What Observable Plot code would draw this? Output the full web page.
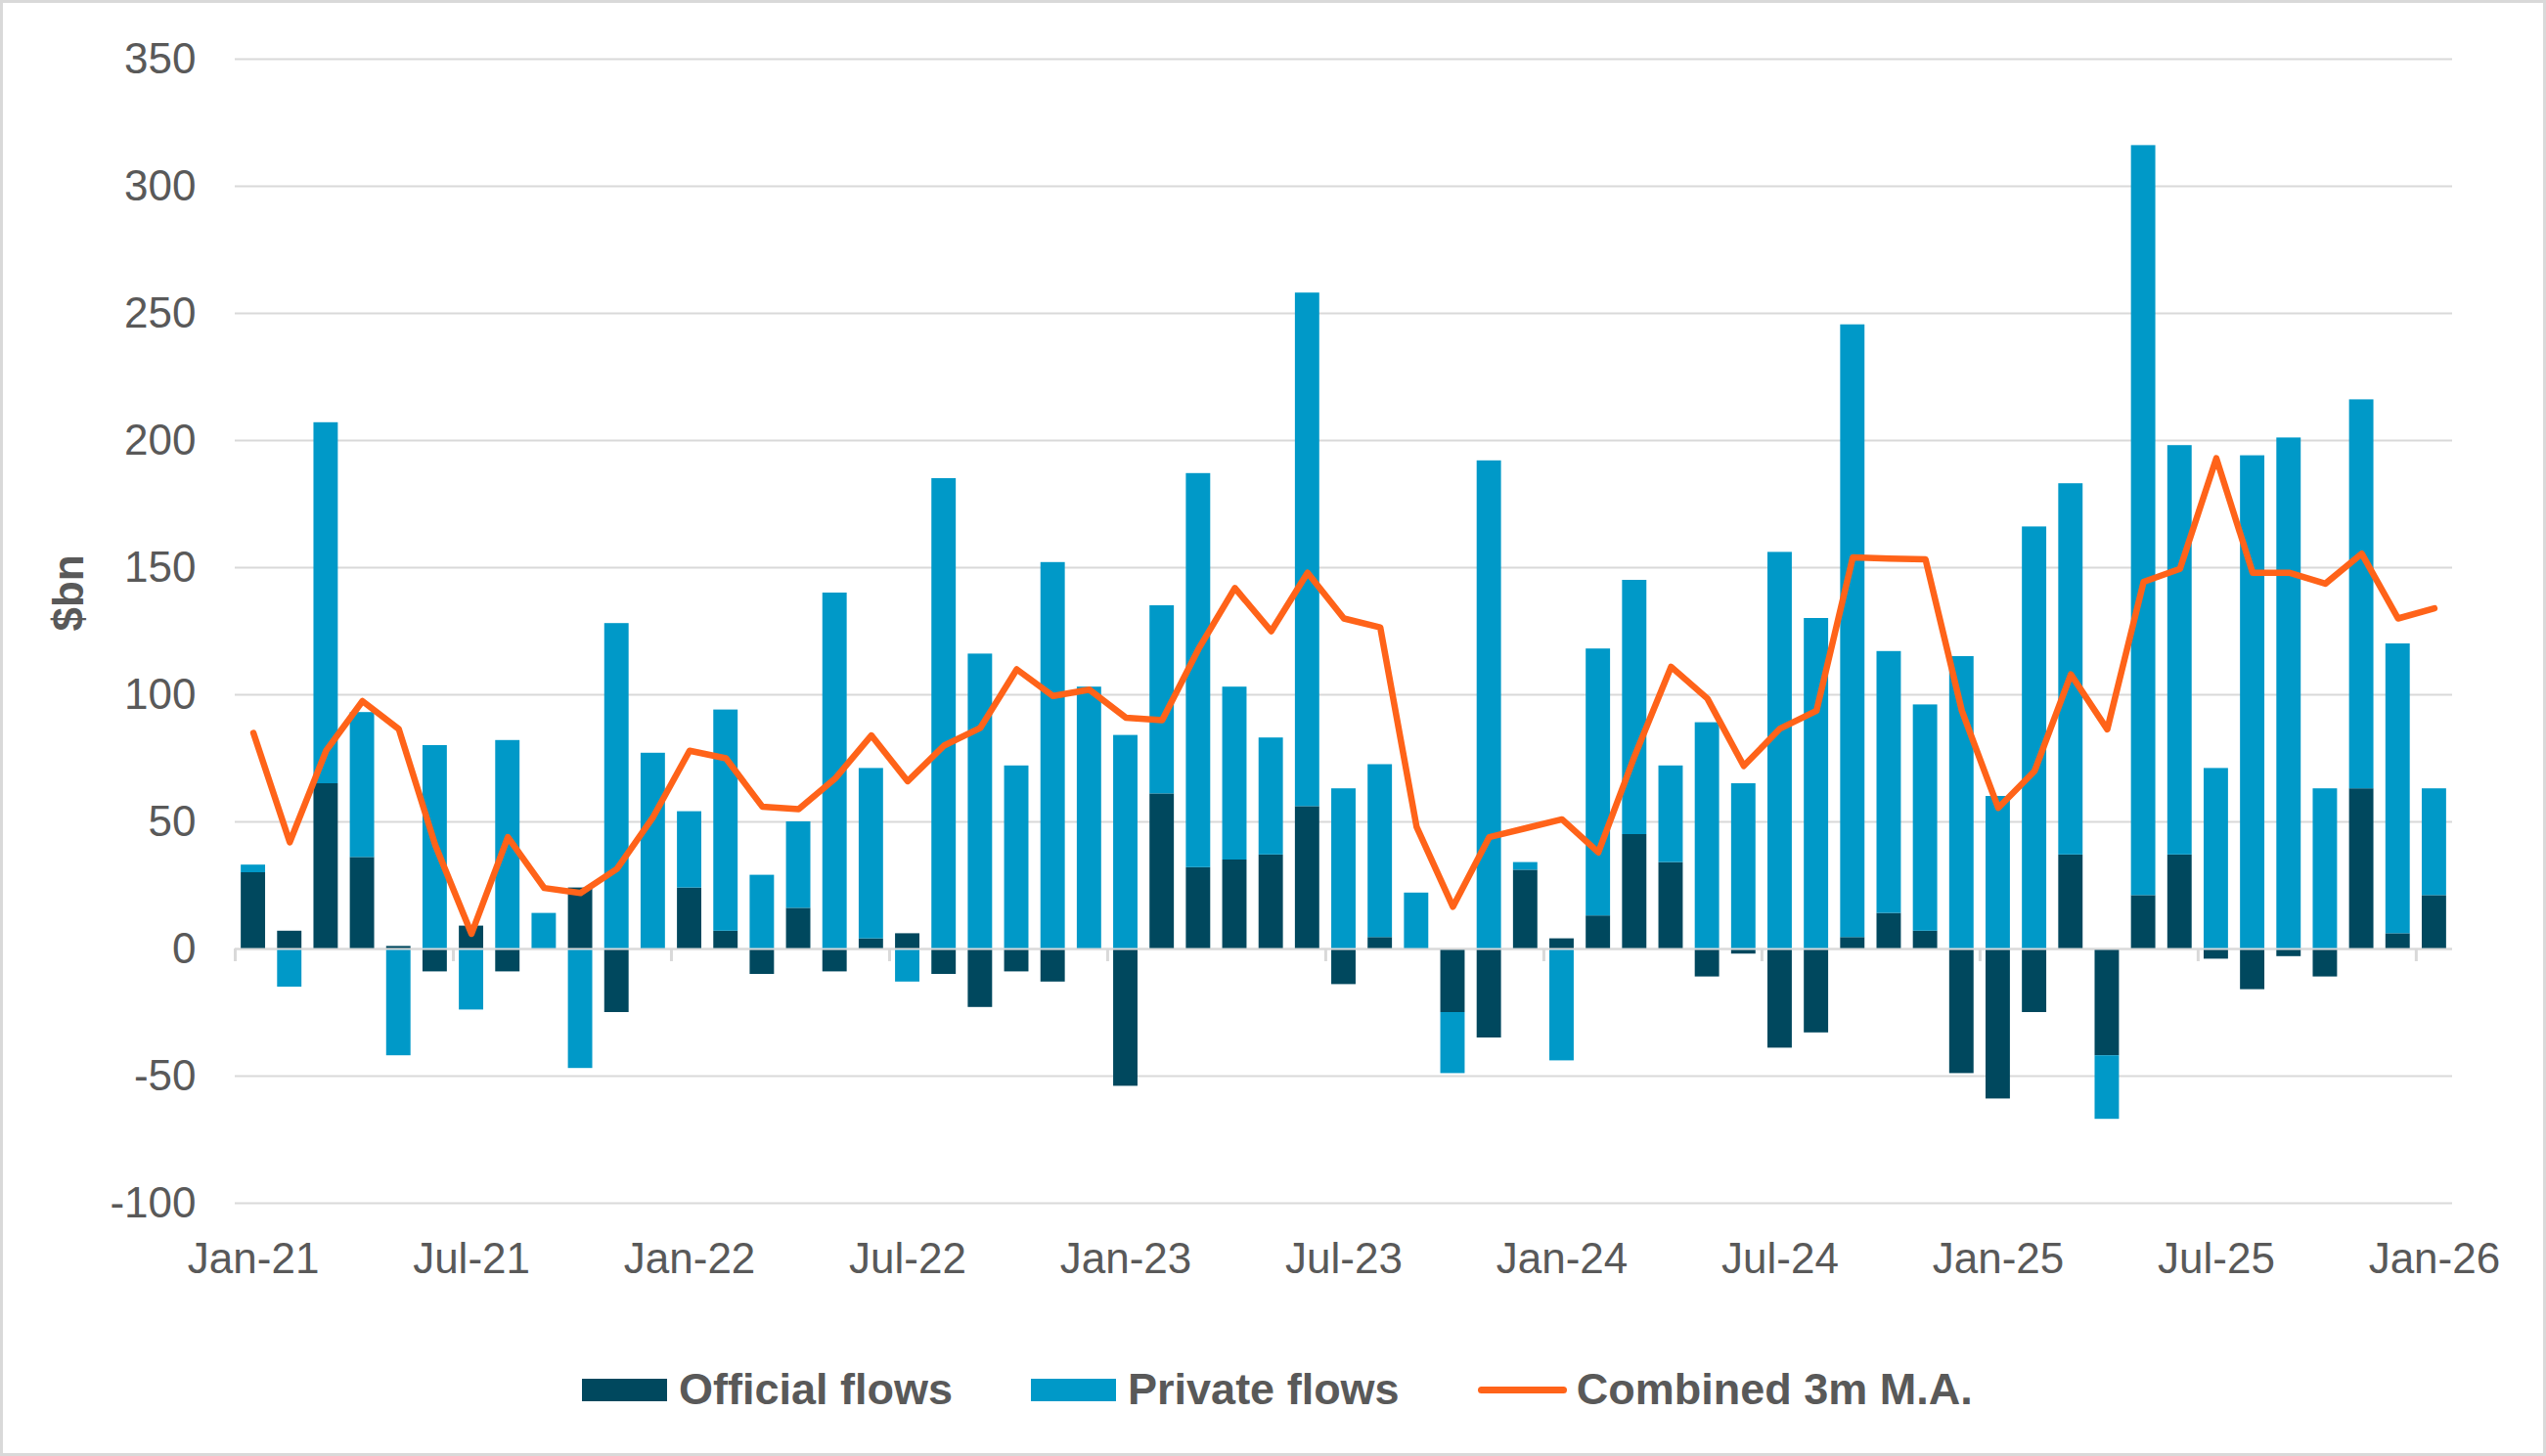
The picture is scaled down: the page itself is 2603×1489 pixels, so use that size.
<!DOCTYPE html>
<html>
<head>
<meta charset="utf-8">
<script src="https://cdn.jsdelivr.net/npm/d3@7"></script>
<script src="https://cdn.jsdelivr.net/npm/@observablehq/plot@0.6"></script>
<style>
  html, body { margin: 0; padding: 0; background: #fff; overflow: hidden; }
  #wrap { position: relative; width: 2603px; height: 1489px; background: #fff; font-family: "Liberation Sans", Arial, sans-serif; }
  #frame { position: absolute; left: 0; top: 0; width: 2603px; height: 1489px; box-sizing: border-box; border: 3px solid #d9d9d9; pointer-events: none; }
  #chart { position: absolute; left: 0; top: 0; }
  #legend { position: absolute; left: 595px; top: 1395px; height: 52px; display: flex; align-items: center; font-weight: bold; font-size: 45px; color: #595959; white-space: nowrap; }
  .item { display: flex; align-items: center; }
  .sw { width: 87px; height: 23px; margin-right: 12px; }
  .ln { width: 91px; height: 7px; border-radius: 4px; margin-right: 10px; }
  .gap { width: 80px; }
</style>
</head>
<body>
<div id="wrap">
  <div id="chart"></div>
  <div id="legend"></div>
  <div id="frame"></div>
</div>
<script>
const months = [
  "Jan-21","Feb-21","Mar-21","Apr-21","May-21","Jun-21","Jul-21","Aug-21","Sep-21","Oct-21","Nov-21","Dec-21",
  "Jan-22","Feb-22","Mar-22","Apr-22","May-22","Jun-22","Jul-22","Aug-22","Sep-22","Oct-22","Nov-22","Dec-22",
  "Jan-23","Feb-23","Mar-23","Apr-23","May-23","Jun-23","Jul-23","Aug-23","Sep-23","Oct-23","Nov-23","Dec-23",
  "Jan-24","Feb-24","Mar-24","Apr-24","May-24","Jun-24","Jul-24","Aug-24","Sep-24","Oct-24","Nov-24","Dec-24",
  "Jan-25","Feb-25","Mar-25","Apr-25","May-25","Jun-25","Jul-25","Aug-25","Sep-25","Oct-25","Nov-25","Dec-25",
  "Jan-26"
];
const officialFlows = [
  30, 7, 65, 36, 1, -9, 9, -9, 0, 24, -25, 0,
  24, 7, -10, 16, -9, 4, 6, -10, -23, -9, -13, 0,
  -54, 61, 32, 35, 37, 56, -14, 4.5, 0, -25, -35, 31,
  4, 13, 45, 34, -11, -2, -39, -33, 4.5, 14, 7, -49,
  -59, -25, 37, -42, 21, 37, -4, -16, -3, -11, 63, 6,
  21
];
const privateFlows = [
  3, -15, 142, 57, -42, 80, -24, 82, 14, -47, 128, 77,
  30, 87, 29, 34, 140, 67, -13, 185, 116, 72, 152, 103,
  84, 74, 155, 68, 46, 202, 63, 68, 22, -24, 192, 3,
  -44, 105, 100, 38, 89, 65, 156, 130, 241, 103, 89, 115,
  60, 166, 146, -25, 295, 161, 71, 194, 201, 63, 153, 114,
  42
];
const combinedMA = [
  85, 42, 78, 97.5, 86.5, 41, 6, 44, 24, 22, 31.5, 52,
  78, 75, 56, 55, 67, 84, 66, 80, 87, 110, 99.5, 102,
  91, 90, 118, 142, 125, 148, 130, 126.5, 48, 16.6, 44, 47.5,
  51, 38, 76, 111, 98.5, 72, 86.7, 93.7, 154, 153.6, 153.3, 93.7,
  55.5, 70, 108, 86.4, 144.4, 149.5, 193, 148, 148, 143.7, 155.5, 130,
  134
];
const tickLabels = ["Jan-21","Jul-21","Jan-22","Jul-22","Jan-23","Jul-23","Jan-24","Jul-24","Jan-25","Jul-25","Jan-26"];
const yTicks = [-100, -50, 0, 50, 100, 150, 200, 250, 300, 350];
const seriesNames = ["Official flows", "Private flows", "Combined 3m M.A."];
const seriesColors = ["#00485e", "#0099c8", "#ff6319"];

const bars = [];
months.forEach((m, i) => {
  bars.push({month: m, series: seriesNames[0], value: officialFlows[i]});
  bars.push({month: m, series: seriesNames[1], value: privateFlows[i]});
});
const lineData = months.map((m, i) => ({month: m, value: combinedMA[i]}));

const W = 2603, H = 1340, ML = 240, MR = 96, MT = 60, MB = 110;
const step = (W - ML - MR) / months.length;

const chart = Plot.plot({
  width: W,
  height: H,
  marginLeft: ML,
  marginRight: MR,
  marginTop: MT,
  marginBottom: MB,
  style: {fontFamily: '"Liberation Sans", Arial, sans-serif', fontSize: "44px", color: "#595959", background: "transparent"},
  x: {type: "band", domain: months, paddingInner: 0.33, paddingOuter: 0.165, align: 0.5, round: false},
  y: {domain: [-100, 350]},
  color: {domain: seriesNames.slice(0, 2), range: seriesColors.slice(0, 2)},
  marks: [
    Plot.gridY(yTicks, {stroke: "#d9d9d9", strokeOpacity: 1, strokeWidth: 2}),
    Plot.barY(bars, {x: "month", y: "value", fill: "series"}),
    Plot.ruleY([0], {stroke: "#d9d9d9", strokeWidth: 2}),
    Plot.ruleX(tickLabels, {x: d => d, y1: 0, y2: -5, dx: -step / 2, stroke: "#d9d9d9", strokeWidth: 3}),
    Plot.line(lineData, {x: "month", y: "value", stroke: seriesColors[2], strokeWidth: 6.5, strokeLinejoin: "round", strokeLinecap: "round"}),
    Plot.axisY(yTicks, {tickSize: 0, tickPadding: 40, label: null, fontSize: 44, tickFormat: d => String(d)}),
    Plot.axisX(tickLabels, {tickSize: 0, tickPadding: 40, label: null, fontSize: 44}),
    Plot.text(["$bn"], {frameAnchor: "left", dx: -170, rotate: -90, fontWeight: "bold", fontSize: 44, fill: "#595959"})
  ]
});
document.getElementById("chart").appendChild(chart);

const legend = document.getElementById("legend");
seriesNames.forEach((name, i) => {
  if (i > 0) { const g = document.createElement("div"); g.className = "gap"; legend.appendChild(g); }
  const item = document.createElement("div");
  item.className = "item";
  const sw = document.createElement("div");
  sw.className = i < 2 ? "sw" : "ln";
  sw.style.background = seriesColors[i];
  const t = document.createElement("span");
  t.textContent = name;
  item.appendChild(sw);
  item.appendChild(t);
  legend.appendChild(item);
});
</script>
</body>
</html>
